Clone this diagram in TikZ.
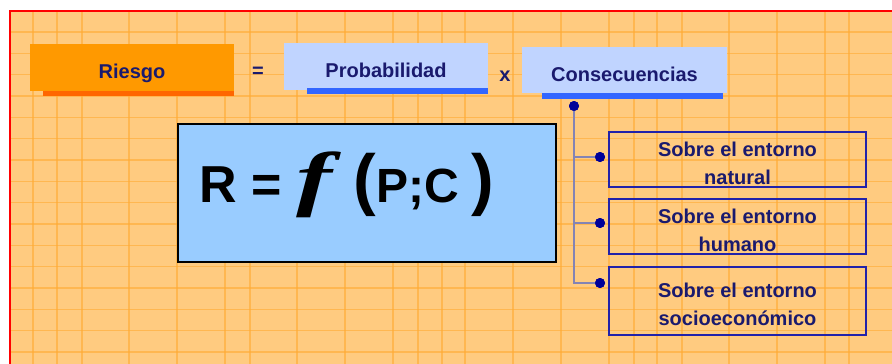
\documentclass[tikz,border=0pt]{standalone}
\usepackage{fontspec}
\usepackage{graphicx}
\setmainfont{Liberation Sans}
\newfontfamily\serfont{Liberation Serif}
\definecolor{bgor}{HTML}{FFCB80}
\definecolor{gridor}{HTML}{FFAA33}
\definecolor{riesgoor}{HTML}{FF9900}
\definecolor{shadowor}{HTML}{FF6600}
\definecolor{lightblue}{HTML}{C0D4FF}
\definecolor{barblue}{HTML}{3366FF}
\definecolor{bigblue}{HTML}{99CCFF}
\definecolor{navytext}{HTML}{1A1A6E}
\definecolor{boxline}{HTML}{2222AA}
\definecolor{conline}{HTML}{8484B4}
\definecolor{dotblue}{HTML}{000099}
\tikzset{
  lbl/.style={font=\fontsize{20pt}{24pt}\selectfont\bfseries, text=navytext, inner sep=0pt},
  topbox/.style={minimum width=204pt, minimum height=47pt, inner sep=0pt, text height=21pt, text depth=0pt,
    font=\fontsize{20pt}{24pt}\selectfont\bfseries, text=navytext},
  conbox/.style={draw=boxline, line width=1.3pt, minimum width=257pt, inner sep=0pt, align=center,
    font=\fontsize{20pt}{28pt}\selectfont\bfseries, text=navytext},
  bdot/.style={circle, fill=dotblue, inner sep=0pt, minimum size=10pt},
  conn/.style={draw=conline, line width=1.8pt}
}
\begin{document}
\begin{tikzpicture}[x=1pt,y=-1pt]
\useasboundingbox (0,0) rectangle (892,364);
% background
\fill[bgor] (10,11) rectangle (892,364);
\foreach \gx in {33,57,82,129,177,225,250,297,345,393,418,442,465,513,561,609,634,657,682,729,777,825,849}
  \draw[gridor, line width=1.3pt, opacity=0.6] (\gx,12) -- (\gx,364);
\foreach \k in {0,...,15}
  \draw[gridor, line width=1.3pt, opacity=0.6] (11,32+21.33*\k) -- (892,32+21.33*\k);
\draw[red, line width=2.6pt] (10,400) -- (10,11) -- (900,11);
% top row
\fill[shadowor] (43,90) rectangle (234,96);
\node[topbox, fill=riesgoor] (riesgo) at (132,67.5) {Riesgo};
\node[lbl] (eq) at (258,72.5) {=};
\node[topbox, fill=lightblue] (prob) at (386,66.5) {Probabilidad};
\fill[barblue] (307,88) rectangle (488,94);
\node[lbl] (times) at (505,76) {x};
\node[topbox, fill=lightblue, minimum width=205pt, minimum height=46pt, text height=23pt] (cons) at (624.5,70) {Consecuencias};
\fill[barblue] (542,93) rectangle (723,99);
% formula box
\node[draw=black, line width=1.6pt, fill=bigblue, minimum width=378pt, minimum height=138pt, inner sep=0pt] (formula) at (367,193) {};
\node[anchor=base west, inner sep=0pt, font=\bfseries] (ftext) at (199,202)
  {\fontsize{52pt}{52pt}\selectfont R = \scalebox{1.5}[1]{\serfont\bfseries\itshape\fontsize{72pt}{72pt}\selectfont f}\hspace{22pt}{\fontsize{68pt}{68pt}\selectfont (}{\fontsize{48pt}{48pt}\selectfont P;C}\hspace{12pt}{\fontsize{68pt}{68pt}\selectfont )}};
% consequence boxes
\node[conbox, minimum height=55pt] (b1) at (737.5,159.5) {\rule{0pt}{22pt}Sobre el entorno\\natural};
\node[conbox, minimum height=55pt] (b2) at (737.5,226.5) {\rule{0pt}{22pt}Sobre el entorno\\humano};
\node[conbox, minimum height=68pt] (b3) at (737.5,301) {\rule{0pt}{22pt}Sobre el entorno\\socioeconómico};
% connectors
\node[bdot] (cdot) at (574,106) {};
\node[bdot] (d1) at (600,157) {};
\node[bdot] (d2) at (600,223) {};
\node[bdot] (d3) at (600,283) {};
\draw[conn] (cdot.center) |- (d3.center);
\draw[conn] (cdot.center) |- (d1.center);
\draw[conn] (cdot.center) |- (d2.center);
\node[bdot] at (cdot) {};
\node[bdot] at (d1) {};
\node[bdot] at (d2) {};
\node[bdot] at (d3) {};
\end{tikzpicture}
\end{document}
